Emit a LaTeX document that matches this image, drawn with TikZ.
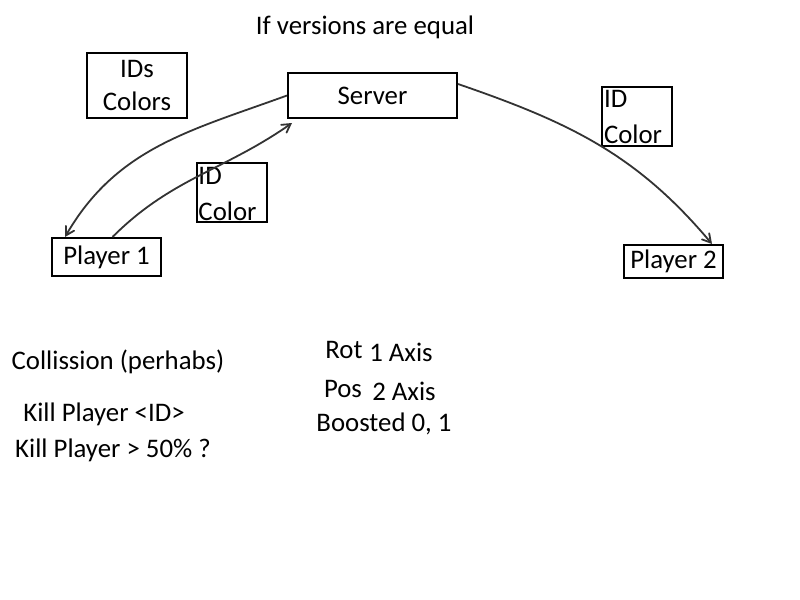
\documentclass[tikz,border=0pt]{standalone}
\usepackage{fontspec}
\setmainfont{Carlito}
\usetikzlibrary{shapes,arrows}

\newcommand{\notetext}[1]{\parbox[c][29.5pt][t]{33pt}{\vspace*{2pt}#1}}

\begin{document}
\begin{tikzpicture}
  [x=0.5pt,y=-0.5pt,every node/.style={font=\fontsize{13.4}{16.5}\selectfont},
   box/.style={draw,line width=1pt,inner sep=0pt},
   note/.style={box,inner xsep=1pt,font=\fontsize{13.4}{18}\selectfont},
   link/.style={->,>=angle 60,line width=0.9pt,draw=black!80}]

  \useasboundingbox (0,0) rectangle (800,600);

  \node (title) at (365,27) {If versions are equal};

  \node[box,align=center,minimum width=50pt,minimum height=32.5pt] (ids) at (137,85.5) {IDs\\Colors};
  \node[box,minimum width=84.5pt,minimum height=22.5pt] (server) at (372.5,95.5) {Server};
  \node[note] (idc1) at (231.5,192.5) {\notetext{ID\\Color}};
  \node[note] (idc2) at (637,116) {\notetext{ID\\Color}};
  \node[box,minimum width=54.5pt,minimum height=19pt] (p1) at (106.5,257) {Player 1};
  \node[box,minimum width=49.5pt,minimum height=16.5pt] (p2) at (673.5,261.5) {Player 2};

  \draw[link] (server.west) to[out=200,in=60] ([xshift=7pt]p1.north west);
  \draw[link] ([xshift=3pt]p1.north) to[out=45,in=215] ([xshift=2.5pt,yshift=-2pt]server.south west);
  \draw[link] ([yshift=-6pt]server.north east) to[out=-19,in=130] ([xshift=-6pt]p2.north east);

  \node (coll) at (118,362) {Collission (perhabs)};
  \node (kill1) at (104,414) {Kill Player <ID>};
  \node (kill2) at (113,450) {Kill Player > 50\% ?};

  \node (rot) at (344,350) {Rot};
  \node (rotax) at (401,352) {1 Axis};
  \node (pos) at (343,389) {Pos};
  \node (posax) at (404,391) {2 Axis};
  \node (boost) at (384,424) {Boosted 0, 1};

\end{tikzpicture}
\end{document}
